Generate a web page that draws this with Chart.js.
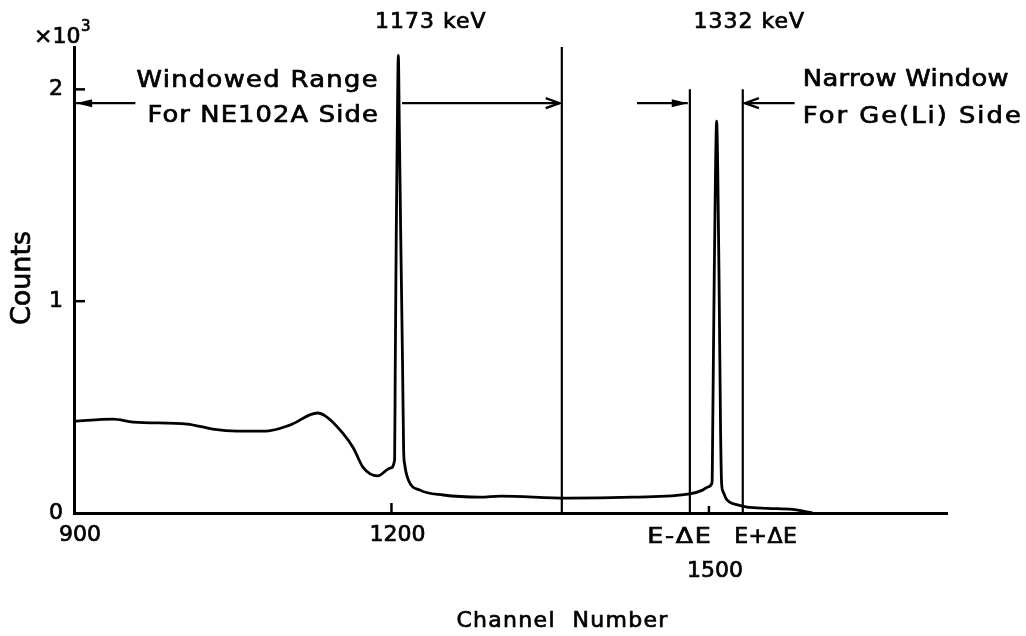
<!DOCTYPE html>
<html>
<head>
<meta charset="utf-8">
<script src="https://cdn.jsdelivr.net/npm/chart.js@4/dist/chart.umd.min.js"></script>
<style>
  body { margin: 0; background: #fff; }
  #wrap { width: 1026px; height: 636px; }
</style>
</head>
<body>
<div id="wrap"><canvas id="spectrumChart"></canvas></div>
<script>
// Spectrum: channel number and counts
const channels = [900, 937, 956, 1007, 1031, 1054, 1082, 1104, 1130, 1139, 1154, 1164, 1173, 1187, 1199,
  1203, 1203.6, 1204.5, 1205.5, 1206.5, 1207.5, 1208.8, 1210.5, 1211.5, 1212.5, 1216, 1227, 1249, 1284,
  1303, 1366, 1428, 1482, 1494, 1500, 1503, 1503.6, 1505, 1506.2, 1507.3, 1508.4, 1509.6, 1511, 1512,
  1513.5, 1516, 1520, 1527, 1536, 1555, 1579, 1590, 1598];
const counts = [434, 443, 429, 420, 396, 387, 387, 415, 472, 453, 377, 307, 217, 175, 212,
  250, 700, 1300, 1800, 2160, 1800, 1300, 700, 300, 230, 156, 108, 85, 75,
  80, 70, 75, 90, 108, 125, 145, 400, 1100, 1600, 1850, 1600, 1100, 400, 140,
  100, 70, 50, 38, 28, 22, 17, 8, 0];

// Window marker lines (channel, top in counts)
const windowChannels = [1361, 1482, 1532];
const windowTops = [2200, 2000, 2000];

// Arrows: tail and head channel, all at one counts level
const arrowTails = [958, 1210, 1432, 1581];
const arrowHeads = [902, 1359, 1480, 1534];
const arrowStyles = ['solid', 'open', 'solid', 'open'];
const arrowLevel = 1935;

// Peak labels
const peakChannels = [1207, 1508];
const peakLabels = ['1173 keV', '1332 keV'];

// Axis ticks
const xTicks = [900, 1200, 1500];
const yTicks = [0, 1000, 2000];

const FONT = '"DejaVu Sans", sans-serif';

function strokeLine(ctx, x1, y1, x2, y2) {
  ctx.beginPath();
  ctx.moveTo(x1, y1);
  ctx.lineTo(x2, y2);
  ctx.stroke();
}

// text a little wider and heavier than the plain face, like the plotter lettering
function drawText(ctx, text, x, y, size, align, spacing, stretch) {
  ctx.save();
  ctx.translate(x, y);
  ctx.scale(stretch || 1, 1);
  ctx.font = size + 'px ' + FONT;
  ctx.textAlign = align || 'left';
  ctx.letterSpacing = (spacing || 0) + 'px';
  ctx.lineWidth = 0.7;
  ctx.fillText(text, 0, 0);
  ctx.strokeText(text, 0, 0);
  ctx.restore();
}

// Ticks, arrows and the text round the plot
const annotations = {
  id: 'annotations',
  afterDatasetsDraw(chart) {
    const ctx = chart.ctx;
    const xs = chart.scales.x;
    const ys = chart.scales.y;
    const area = chart.chartArea;
    ctx.save();
    ctx.strokeStyle = '#000';
    ctx.fillStyle = '#000';
    ctx.textBaseline = 'alphabetic';

    // inward tick marks
    ctx.lineWidth = 2.5;
    yTicks.slice(1).forEach(v => {
      const py = ys.getPixelForValue(v);
      strokeLine(ctx, area.left, py, area.left + 11, py);
    });
    strokeLine(ctx, xs.getPixelForValue(1200), area.bottom, xs.getPixelForValue(1200), area.bottom - 10);
    strokeLine(ctx, xs.getPixelForValue(1500), area.bottom, xs.getPixelForValue(1500), area.bottom - 7);

    // arrows
    const ay = ys.getPixelForValue(arrowLevel);
    ctx.lineWidth = 2.2;
    arrowTails.forEach((tail, i) => {
      const x1 = xs.getPixelForValue(tail);
      const x2 = xs.getPixelForValue(arrowHeads[i]);
      const dir = Math.sign(x2 - x1);
      strokeLine(ctx, x1, ay, x2, ay);
      ctx.beginPath();
      if (arrowStyles[i] === 'solid') {
        ctx.moveTo(x2, ay);
        ctx.lineTo(x2 - dir * 16, ay - 4);
        ctx.lineTo(x2 - dir * 16, ay + 4);
        ctx.closePath();
        ctx.fill();
      } else {
        ctx.moveTo(x2 - dir * 14, ay - 5);
        ctx.lineTo(x2, ay);
        ctx.lineTo(x2 - dir * 14, ay + 5);
        ctx.stroke();
      }
    });

    // peak energies
    peakChannels.forEach((c, i) => {
      drawText(ctx, peakLabels[i], xs.getPixelForValue(c) + 32, 28, 22, 'center', 1);
    });

    // window captions
    const leftEdge = xs.getPixelForValue(peakChannels[0]) - 20;
    drawText(ctx, 'Windowed Range', leftEdge, 87, 23, 'right', 1.2, 1.12);
    drawText(ctx, 'For NE102A Side', leftEdge, 122, 23, 'right', 1, 1.12);
    const rightEdge = xs.getPixelForValue(windowChannels[2]) + 60;
    drawText(ctx, 'Narrow Window', rightEdge, 86, 23, 'left', 0.3, 1.12);
    drawText(ctx, 'For Ge(Li) Side', rightEdge, 123, 23, 'left', 1.8, 1.12);

    // window bounds under the axis
    drawText(ctx, 'E-\u0394E', xs.getPixelForValue(windowChannels[1]) - 10, 543, 22, 'center', 1.5, 1.15);
    drawText(ctx, 'E+\u0394E', xs.getPixelForValue(windowChannels[2]) + 23, 543, 22, 'center', 0.5);

    // y multiplier
    drawText(ctx, '\u00d710', 34, 43, 22, 'left', 0);
    drawText(ctx, '3', 81, 31, 15, 'left', 0);

    // axis titles
    drawText(ctx, 'Channel  Number', (area.left + area.right) / 2 + 52, 627, 22, 'center', 1.3);
    ctx.translate(23, 278);
    ctx.rotate(-Math.PI / 2);
    ctx.textBaseline = 'middle';
    drawText(ctx, 'Counts', 0, 0, 27, 'center', 0);
    ctx.restore();
  }
};

const datasets = [{
  data: channels.map((c, i) => ({ x: c, y: counts[i] })),
  borderColor: '#000',
  borderWidth: 2.8,
  pointRadius: 0,
  cubicInterpolationMode: 'monotone'
}];
windowChannels.forEach((c, i) => {
  datasets.push({
    data: [{ x: c, y: 0 }, { x: c, y: windowTops[i] }],
    borderColor: '#000',
    borderWidth: 2.2,
    pointRadius: 0
  });
});

const tickFont = { family: FONT, size: 22, lineHeight: 1.65 };

new Chart(document.getElementById('spectrumChart'), {
  type: 'line',
  data: { datasets: datasets },
  plugins: [annotations],
  options: {
    responsive: true,
    maintainAspectRatio: false,
    animation: false,
    layout: { padding: { top: 47, right: 79, left: 0, bottom: 0 } },
    plugins: {
      legend: { display: false },
      tooltip: { enabled: false }
    },
    scales: {
      x: {
        type: 'linear',
        min: 900,
        max: 1725,
        afterFit: s => { s.height = 123; },
        afterBuildTicks: s => { s.ticks = xTicks.map(v => ({ value: v })); },
        grid: { display: false, drawTicks: false },
        border: { display: true, color: '#000', width: 3 },
        ticks: {
          color: '#000',
          textStrokeColor: '#000',
          textStrokeWidth: 0.7,
          padding: 4,
          labelOffset: 6,
          maxRotation: 0,
          font: tickFont,
          callback: v => v === 1500 ? ['', '1500'] : String(v)
        }
      },
      y: {
        min: 0,
        max: 2200,
        afterFit: s => { s.width = 74; },
        afterBuildTicks: s => { s.ticks = yTicks.map(v => ({ value: v })); },
        grid: { display: false, drawTicks: false },
        border: { display: true, color: '#000', width: 3 },
        ticks: {
          color: '#000',
          textStrokeColor: '#000',
          textStrokeWidth: 0.7,
          padding: 11,
          font: { family: FONT, size: 22 },
          callback: v => String(v / 1000)
        }
      }
    }
  }
});
</script>
</body>
</html>
